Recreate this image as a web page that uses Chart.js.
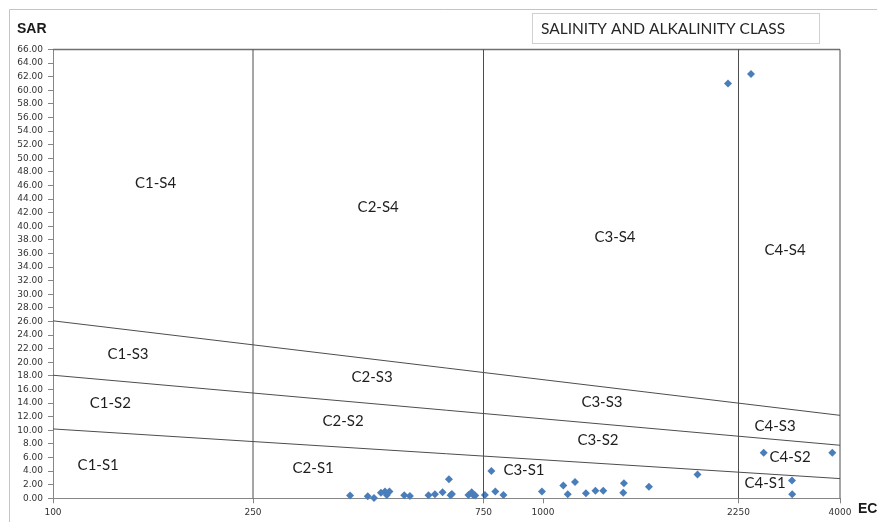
<!DOCTYPE html>
<html>
<head>
<meta charset="utf-8">
<script src="https://cdn.jsdelivr.net/npm/chart.js@4/dist/chart.umd.min.js"></script>
<style>
  html, body { margin: 0; padding: 0; background: #fff; }
  #wrap { width: 877px; height: 522px; position: relative; }
</style>
</head>
<body>
<div id="wrap"><canvas id="wilcox"></canvas></div>
<script>
// EC / SAR samples
const ecValues = [397, 432, 445, 460, 469, 473, 479, 514, 528, 577,
    595, 617, 636, 641, 645, 698, 709, 714, 721, 755,
    779, 794, 826, 995, 1088, 1108, 1142, 1195, 1243, 1284,
    1395, 1399, 1552, 1898, 2154, 2415, 2595, 3047, 3050, 3829];
const sarValues = [0.4, 0.3, 0.05, 0.8, 1.0, 0.5, 1.0, 0.45, 0.35, 0.45,
    0.6, 0.9, 2.8, 0.45, 0.65, 0.5, 0.9, 0.5, 0.4, 0.5,
    4.0, 1.0, 0.5, 1.0, 1.9, 0.6, 2.4, 0.75, 1.1, 1.1,
    0.8, 2.2, 1.7, 3.5, 61.0, 62.4, 6.7, 2.6, 0.6, 6.7];

// class boundaries
const ecTicks = [100, 250, 750, 1000, 2250, 4000];
const salinityBounds = [250, 750, 2250, 4000];
const ecRange = [100, 4000];
const s1s2Line = [10.2, 2.9];   // SAR at EC 100 and 4000
const s2s3Line = [18.1, 7.8];
const s3s4Line = [26.1, 12.2];
const sarMax = 66;

// region labels [text, EC, SAR]
const classNames = ['C1-S4', 'C1-S3', 'C1-S2', 'C1-S1',
    'C2-S4', 'C2-S3', 'C2-S2', 'C2-S1',
    'C3-S4', 'C3-S3', 'C3-S2', 'C3-S1',
    'C4-S4', 'C4-S3', 'C4-S2', 'C4-S1'];
const classEC = [160, 141, 130, 123, 454, 441, 384, 333, 1348, 1277, 1256, 912, 2929, 2768, 3013, 2615];
const classSAR = [46.3, 21.2, 14.0, 4.9, 42.8, 17.8, 11.4, 4.5, 38.4, 14.2, 8.5, 4.2, 36.5, 10.6, 6.1, 2.2];

// the excel axis isn't a clean log axis, so map it piecewise between the tick values
const tickFractions = [0, 200 / 787, 430.5 / 787, 490 / 787, 685.5 / 787, 1];

function ecToFrac(v) {
    if (v <= ecTicks[0]) return 0;
    for (let i = 1; i < ecTicks.length; i++) {
        if (v <= ecTicks[i]) {
            const a = ecTicks[i - 1], b = ecTicks[i];
            const t = Math.log(v / a) / Math.log(b / a);
            return tickFractions[i - 1] + t * (tickFractions[i] - tickFractions[i - 1]);
        }
    }
    return 1;
}
function fracToEc(f) {
    for (let i = 1; i < ecTicks.length; i++) {
        if (f <= tickFractions[i]) {
            const t = (f - tickFractions[i - 1]) / (tickFractions[i] - tickFractions[i - 1]);
            return ecTicks[i - 1] * Math.pow(ecTicks[i] / ecTicks[i - 1], t);
        }
    }
    return ecTicks[ecTicks.length - 1];
}

class PiecewiseScale extends Chart.LinearScale {
    buildTicks() { return ecTicks.map(v => ({ value: v })); }
    getPixelForValue(value) { return this.getPixelForDecimal(ecToFrac(value)); }
    getValueForPixel(pixel) { return fracToEc(this.getDecimalForPixel(pixel)); }
}
PiecewiseScale.id = 'piecewise';
PiecewiseScale.defaults = Chart.LinearScale.defaults;
Chart.register(PiecewiseScale);

const points = ecValues.map((x, i) => ({ x: x, y: sarValues[i] }));

const lineStyle = {
    type: 'line', borderColor: '#4d4d4d', borderWidth: 1,
    pointRadius: 0, fill: false, tension: 0, clip: false
};

const datasets = [];
[s1s2Line, s2s3Line, s3s4Line].forEach(l => {
    datasets.push(Object.assign({}, lineStyle, {
        data: [{ x: ecRange[0], y: l[0] }, { x: ecRange[1], y: l[1] }]
    }));
});
salinityBounds.forEach(ec => {
    datasets.push(Object.assign({}, lineStyle, {
        data: [{ x: ec, y: 0 }, { x: ec, y: sarMax }]
    }));
});
datasets.push(Object.assign({}, lineStyle, {
    borderColor: '#6f6f6f', borderWidth: 1.5,
    data: [{ x: ecRange[0], y: sarMax }, { x: ecRange[1], y: sarMax }]
}));
datasets.push({
    type: 'scatter',
    data: points,
    pointStyle: 'rectRot',
    pointRadius: 4,
    backgroundColor: '#4a7ebb',
    borderColor: '#4a7ebb',
    borderWidth: 0,
    clip: false
});

const decorPlugin = {
    id: 'decor',
    beforeDraw(chart) {
        const c = chart.ctx;
        c.save();
        // outer frame
        c.strokeStyle = '#c4c4c4';
        c.lineWidth = 1;
        c.beginPath();
        c.moveTo(9.5, 530); c.lineTo(9.5, 9.5); c.lineTo(900, 9.5);
        c.stroke();
        // title box
        c.strokeStyle = '#d0d0d0';
        c.strokeRect(532.5, 13.5, 287, 30);
        c.fillStyle = '#262626';
        c.font = '15.5px Lato';
        c.textBaseline = 'middle';
        c.fillText('SALINITY AND ALKALINITY CLASS', 541, 29);
        c.font = 'bold 14px "Liberation Sans"';
        c.fillStyle = '#1a1a1a';
        c.fillText('SAR', 17, 29);
        c.fillText('EC', 858, 509);
        c.restore();
    },
    afterDatasetsDraw(chart) {
        const c = chart.ctx, xs = chart.scales.x, ys = chart.scales.y;
        c.save();
        c.font = '15px Lato';
        c.fillStyle = '#1e1e1e';
        c.textAlign = 'center';
        c.textBaseline = 'middle';
        classNames.forEach((name, i) => {
            c.fillText(name, xs.getPixelForValue(classEC[i]), ys.getPixelForValue(classSAR[i]));
        });
        c.restore();
    }
};

new Chart(document.getElementById('wilcox'), {
    type: 'scatter',
    data: { datasets: datasets },
    options: {
        responsive: true,
        maintainAspectRatio: false,
        animation: false,
        layout: { padding: { left: 0, top: 49.5, right: 37, bottom: 5.7 } },
        plugins: { legend: { display: false }, tooltip: { enabled: false } },
        scales: {
            x: {
                type: 'piecewise',
                min: ecRange[0], max: ecRange[1],
                afterFit(s) { s.height = 18; },
                grid: { drawOnChartArea: false, tickLength: 5, color: '#868686' },
                border: { color: '#868686' },
                ticks: {
                    autoSkip: false, maxRotation: 0, padding: 4,
                    color: '#333', font: { family: 'DejaVu Sans', size: 9 },
                    callback: v => String(v)
                }
            },
            y: {
                min: 0, max: sarMax,
                afterFit(s) { s.width = 53; },
                afterBuildTicks(s) {
                    s.ticks = [];
                    for (let v = 0; v <= sarMax; v += 2) s.ticks.push({ value: v });
                },
                grid: { drawOnChartArea: false, tickLength: 5, color: '#868686' },
                border: { color: '#868686' },
                ticks: {
                    autoSkip: false, padding: 5,
                    color: '#333', font: { family: 'DejaVu Sans', size: 9 },
                    callback: v => v.toFixed(2)
                }
            }
        }
    },
    plugins: [decorPlugin]
});
</script>
</body>
</html>
